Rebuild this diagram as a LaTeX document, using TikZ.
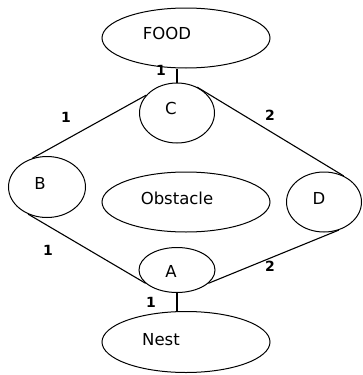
\documentclass[tikz,border=0pt]{standalone}
\usepackage{fontspec}
\setmainfont{DejaVu Sans}
\usetikzlibrary{shapes.geometric}
\begin{document}
\begin{tikzpicture}[x=1pt,y=-1pt,
  oval/.style={draw=black,line width=1pt,ellipse,inner sep=0pt,minimum width=#1},
  txt/.style={inner sep=0pt,font=\fontsize{16.5}{16.5}\selectfont},
  wlab/.style={inner sep=0pt,font=\fontsize{14}{14}\selectfont\bfseries},
  link/.style={draw=black,line width=1.1pt}]
\useasboundingbox (0,0) rectangle (362,375);
% shapes
\node[oval=168pt,minimum height=60pt] (food) at (186,38) {};
\node[oval=75pt,minimum height=60pt] (c) at (177,113) {};
\node[oval=77pt,minimum height=61pt] (b) at (47,187) {};
\node[oval=168pt,minimum height=60pt] (obst) at (186,202) {};
\node[oval=75pt,minimum height=60pt] (d) at (324,202) {};
\node[oval=76pt,minimum height=45pt] (a) at (177,270) {};
\node[oval=168pt,minimum height=61pt] (nest) at (186,342) {};
% texts
\node[txt] (foodt) at (167,33) {FOOD};
\node[txt] (ct) at (171,108) {C};
\node[txt] (bt) at (40,183) {B};
\node[txt] (obstt) at (177,198) {Obstacle};
\node[txt] (dt) at (319,198) {D};
\node[txt] (at) at (171,271) {A};
\node[txt] (nestt) at (161,340) {Nest};
% connectors
\draw[link] (c.north) -- (c.north |- food.south);
\draw[link] (b.117) -- (c.150);
\draw[link] (c.52) -- (d.53);
\draw[link] (b.235) -- (a.203);
\draw[link] (d.298) -- (a.337);
\draw[link] (a.south) -- (a.south |- nest.north);
% weights
\node[wlab] (w1) at (161,70) {1};
\node[wlab] (w2) at (66,117) {1};
\node[wlab] (w3) at (270,115) {2};
\node[wlab] (w4) at (48,250) {1};
\node[wlab] (w5) at (270,266) {2};
\node[wlab] (w6) at (151,302) {1};
\end{tikzpicture}
\end{document}
